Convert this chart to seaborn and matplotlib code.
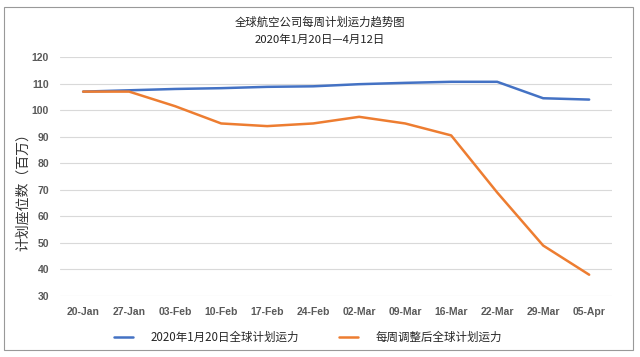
import numpy as np
import pandas as pd
import seaborn as sns
import matplotlib.pyplot as plt
from matplotlib.patches import Rectangle

sns.set_theme(style="white")
plt.rcParams['font.family'] = ['Noto Sans CJK SC', 'DejaVu Sans']

weeks = ["20-Jan", "27-Jan", "03-Feb", "10-Feb", "17-Feb", "24-Feb",
         "02-Mar", "09-Mar", "16-Mar", "22-Mar", "29-Mar", "05-Apr"]
baseline = [107, 107.5, 108, 108.3, 108.8, 109, 109.8, 110.3, 110.7, 110.7, 104.5, 104]
adjusted = [107, 107, 101.5, 95, 94, 95, 97.5, 95, 90.5, 69, 49, 38]
names = ["2020年1月20日全球计划运力", "每周调整后全球计划运力"]

df = pd.DataFrame({
    "week": weeks * 2,
    "seats": baseline + adjusted,
    "series": [names[0]] * len(weeks) + [names[1]] * len(weeks),
})

fig = plt.figure(figsize=(6.4, 3.57), dpi=100)
ax = fig.add_axes([0.094, 0.171, 0.8625, 0.669])

sns.lineplot(data=df, x="week", y="seats", hue="series", sort=False,
             palette=["#4472C4", "#ED7D31"], linewidth=1.8, ax=ax, legend=False)

ax.set_xlim(-0.5, len(weeks) - 0.5)
ax.set_ylim(30, 120)
ax.set_yticks(range(30, 121, 10))
ax.yaxis.grid(True, color="#d9d9d9", linewidth=0.8)
ax.set_axisbelow(True)
for s in ax.spines.values():
    s.set_visible(False)
ax.tick_params(axis="both", length=0, labelsize=7.5, colors="#595959", pad=8)
for lab in ax.get_xticklabels() + ax.get_yticklabels():
    lab.set_fontweight("bold")
    lab.set_family(["Liberation Sans", "DejaVu Sans"])
ax.set_xlabel("")
ax.set_ylabel("计划座位数（百万）", fontsize=10, color="#333333")
ax.yaxis.set_label_coords(-0.055, 0.45)

fig.text(0.5, 0.94, "全球航空公司每周计划运力趋势图", ha="center", va="center",
         fontsize=8.2, color="#222222")
fig.text(0.5, 0.888, "2020年1月20日—4月12日", ha="center", va="center",
         fontsize=8.2, color="#222222")

handles = [plt.Line2D([], [], color="#4472C4", linewidth=1.8),
           plt.Line2D([], [], color="#ED7D31", linewidth=1.8)]
fig.legend(handles, names, loc="center left", bbox_to_anchor=(114 / 640, 0.055), ncol=2,
           frameon=False, fontsize=8.3, handlelength=1.65, handletextpad=1.5,
           columnspacing=3.5, borderpad=0, borderaxespad=0)

fig.patches.append(Rectangle((0.006, 0.02), 0.983, 0.96, transform=fig.transFigure,
                             fill=False, edgecolor="#999999", linewidth=0.8))

fig.savefig("out.png", dpi=100)
